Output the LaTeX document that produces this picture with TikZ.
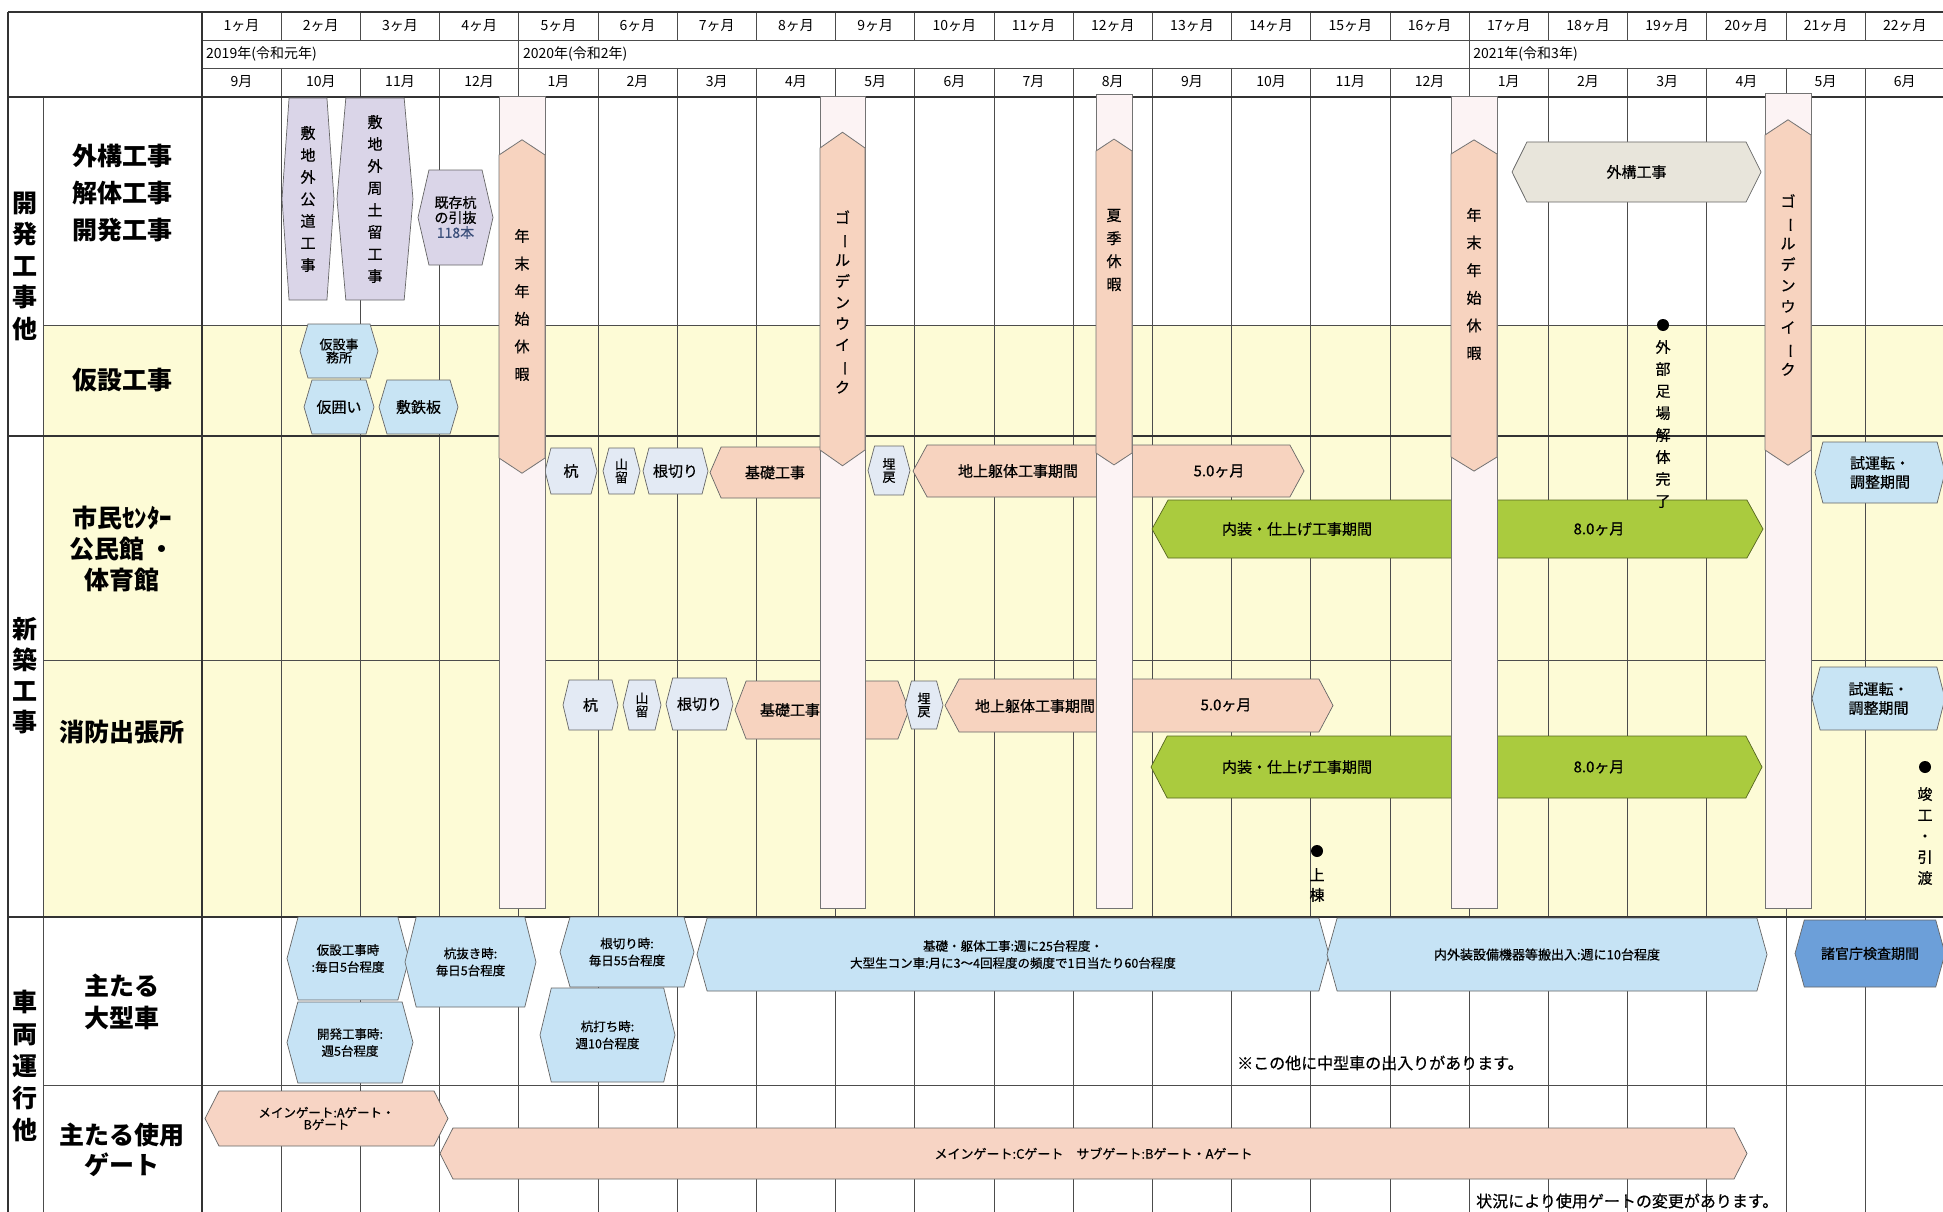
\documentclass[tikz,border=0pt]{standalone}
\usepackage{fontspec}
\setmainfont{Noto Sans CJK JP}
\usetikzlibrary{shapes.symbols}

\definecolor{rowyel}{HTML}{FDFBD6}
\definecolor{holbg}{HTML}{FCF3F4}
\definecolor{holpk}{HTML}{F7D3BF}
\definecolor{lav}{HTML}{DAD5E8}
\definecolor{kblue}{HTML}{C8E4F4}
\definecolor{pale}{HTML}{E3EAF4}
\definecolor{peach}{HTML}{F7D3BF}
\definecolor{leaf}{HTML}{AACB3E}
\definecolor{beige}{HTML}{E8E5DB}
\definecolor{vblue}{HTML}{C6E3F5}
\definecolor{dblue}{HTML}{6C9FD9}
\definecolor{gpeach}{HTML}{F7D4C4}
\definecolor{numblue}{HTML}{3A4E7A}

\newcommand{\chouon}{\rotatebox[origin=c]{-90}{ー}}
\newcommand{\semibold}{\addfontfeature{FakeBold=0.6}}

\begin{document}
\begin{tikzpicture}[x=1pt,y=-1pt,
  grid/.style={draw=black!70,line width=0.8pt},
  frame/.style={draw=black!80,line width=1.3pt},
  hdr/.style={font=\fontsize{14}{16}\selectfont,inner sep=0pt},
  lab/.style={font=\fontsize{25}{#1}\selectfont\bfseries,align=center,inner sep=0pt},
  hx/.style={signal,signal to=east and west,draw=black!60,line width=0.7pt,
    align=center,inner sep=0pt,font=\fontsize{15}{19}\selectfont\semibold},
  tx/.style={font=\fontsize{15}{17}\selectfont\semibold,inner sep=0pt},
  vt/.style={align=center,inner sep=0pt,font=\fontsize{15}{#1}\selectfont\semibold},
  holbase/.style={rectangle,draw=black!55,fill=holbg,line width=0.8pt,inner sep=0pt,minimum width=46pt},
  holarrow/.style={signal,signal to=north and south,draw=black!55,fill=holpk,line width=0.8pt,inner sep=0pt,minimum width=46pt},
  mstone/.style={circle,fill=black,inner sep=0pt,minimum size=12pt},
]
\useasboundingbox (0,0) rectangle (1943,1212);
\fill[white] (0,0) rectangle (1943,1212);
\fill[rowyel] (43,325) rectangle (1943,917);

% grid
\foreach \k in {1,...,21}
  \draw[grid] ({202+\k*79.2},12) -- ({202+\k*79.2},40) ({202+\k*79.2},68) -- ({202+\k*79.2},1212);
\draw[grid] ({202+4*79.2},40) -- ++(0,28) ({202+16*79.2},40) -- ++(0,28);
\draw[grid] (202,40) -- (1943,40) (202,68) -- (1943,68);
\draw[grid] (43,325) -- (1943,325) (43,660) -- (1943,660) (43,1085) -- (1943,1085);
\draw[grid] (43,97) -- (43,1212);
\draw[frame] (8,12) -- (1943,12) (8,97) -- (1943,97) (8,436) -- (1943,436) (8,917) -- (1943,917);
\draw[frame] (8,12) -- (8,1212) (202,12) -- (202,1212);

% header
\foreach \k in {1,...,22}
  \node[hdr] (n\k) at ({202+(\k-0.5)*79.2},26) {\k ヶ月};
\foreach \k/\m in {1/9,2/10,3/11,4/12,5/1,6/2,7/3,8/4,9/5,10/6,11/7,12/8,13/9,14/10,15/11,16/12,17/1,18/2,19/3,20/4,21/5,22/6}
  \node[hdr] (mo\k) at ({202+(\k-0.5)*79.2},82) {\m 月};
\node[hdr,anchor=west] (y2019) at (206,54) {2019年(令和元年)};
\node[hdr,anchor=west] (y2020) at ({206+4*79.2},54) {2020年(令和2年)};
\node[hdr,anchor=west] (y2021) at ({206+16*79.2},54) {2021年(令和3年)};

% row labels
\node[lab=31.5] (g1) at (25,266) {開\\発\\工\\事\\他};
\node[lab=31] (g2) at (25,676) {新\\築\\工\\事};
\node[lab=32] (g3) at (25,1066) {車\\両\\運\\行\\他};
\node[lab=37] (r1) at (122,193) {外構工事\\解体工事\\開発工事};
\node[lab=31] (r2) at (122,380) {仮設工事};
\node[lab=31] (r3) at (122,549) {市民ｾﾝﾀｰ\\公民館 ・\\体育館};
\node[lab=31] (r4) at (122,732) {消防出張所};
\node[lab=32] (r5) at (122,1002) {主たる\\大型車};
\node[lab=30] (r6) at (122,1150) {主たる使用\\ゲート};

% 開発工事他
\node[hx,fill=lav,minimum width=52pt,minimum height=202pt,signal pointer angle=172,font=\fontsize{15}{22}\selectfont\semibold] (kodo) at (308,199) {敷\\地\\外\\公\\道\\工\\事};
\node[hx,fill=lav,minimum width=76pt,minimum height=202pt,signal pointer angle=170,font=\fontsize{15}{22}\selectfont\semibold] (domei) at (375,199) {敷\\地\\外\\周\\土\\留\\工\\事};
\node[hx,fill=lav,minimum width=75pt,minimum height=95pt,signal pointer angle=154,font=\fontsize{14}{15}\selectfont\semibold] (hikinuki) at (455.5,217.5) {既存杭\\の引抜\\\textcolor{numblue}{118本}};
\node[hx,fill=beige,minimum width=249pt,minimum height=60pt,signal pointer angle=127] (gaiko) at (1636.5,172) {外構工事};
\node[hx,fill=kblue,minimum width=78pt,minimum height=54pt,signal pointer angle=147,font=\fontsize{13}{13}\selectfont\semibold] (jimusho) at (339,351) {仮設事\\務所};
\node[hx,fill=kblue,minimum width=70pt,minimum height=54pt,signal pointer angle=147] (kakoi) at (339,407) {仮囲い};
\node[hx,fill=kblue,minimum width=79pt,minimum height=54pt,signal pointer angle=147] (teppan) at (418.5,407) {敷鉄板};

% 市民センター
\node[hx,fill=pale,minimum width=52pt,minimum height=46pt,signal pointer angle=151] (kui1) at (571,471) {杭};
\node[hx,fill=pale,minimum width=37pt,minimum height=46pt,signal pointer angle=151,font=\fontsize{13}{13}\selectfont\semibold] (yama1) at (621.5,471) {山\\留};
\node[hx,fill=pale,minimum width=65pt,minimum height=46pt,signal pointer angle=151] (nekiri1) at (675.5,471) {根切り};
\node[hx,fill=peach,minimum width=130pt,minimum height=51pt,signal pointer angle=133] (kiso1) at (775,472.5) {基礎工事};
\node[hx,fill=pale,minimum width=42pt,minimum height=49pt,signal pointer angle=150,font=\fontsize{13}{13}\selectfont\semibold] (ume1) at (889,470.5) {埋\\戻};
\node[hx,fill=peach,minimum width=391pt,minimum height=52pt,signal pointer angle=123] (kutai1) at (1108.5,471) {};
\node[tx] (kutai1a) at (1018,471) {地上躯体工事期間};
\node[tx] (kutai1b) at (1219,471) {5.0ヶ月};
\node[hx,fill=leaf,draw=leaf!50!black,minimum width=611pt,minimum height=58pt,signal pointer angle=122] (naiso1) at (1457.5,529) {};
\node[tx] (naiso1a) at (1297,529) {内装・仕上げ工事期間};
\node[tx] (naiso1b) at (1599,529) {8.0ヶ月};
\node[hx,fill=kblue,minimum width=130pt,minimum height=61pt,signal pointer angle=151] (shiunten1) at (1880,472.5) {試運転・\\調整期間};

% 消防出張所
\node[hx,fill=pale,minimum width=55pt,minimum height=50pt,signal pointer angle=153] (kui2) at (590.5,705) {杭};
\node[hx,fill=pale,minimum width=38pt,minimum height=50pt,signal pointer angle=153,font=\fontsize{13}{13}\selectfont\semibold] (yama2) at (642,705) {山\\留};
\node[hx,fill=pale,minimum width=67pt,minimum height=52pt,signal pointer angle=151] (nekiri2) at (699.5,704) {根切り};
\node[hx,fill=peach,minimum width=174pt,minimum height=58pt,signal pointer angle=138] (kiso2) at (822,710) {};
\node[tx] (kiso2t) at (790,710) {基礎工事};
\node[hx,fill=pale,minimum width=38pt,minimum height=48pt,signal pointer angle=150,font=\fontsize{13}{13}\selectfont\semibold] (ume2) at (924,705) {埋\\戻};
\node[hx,fill=peach,minimum width=388pt,minimum height=53pt,signal pointer angle=124] (kutai2) at (1139,705.5) {};
\node[tx] (kutai2a) at (1035,706) {地上躯体工事期間};
\node[tx] (kutai2b) at (1226,705) {5.0ヶ月};
\node[hx,fill=leaf,draw=leaf!50!black,minimum width=611pt,minimum height=62pt,signal pointer angle=125] (naiso2) at (1456.5,767) {};
\node[tx] (naiso2a) at (1297,767) {内装・仕上げ工事期間};
\node[tx] (naiso2b) at (1599,767) {8.0ヶ月};
\node[hx,fill=kblue,minimum width=133pt,minimum height=63pt,signal pointer angle=151] (shiunten2) at (1878.5,698.5) {試運転・\\調整期間};

% 主たる大型車
\node[hx,fill=vblue,minimum width=122pt,minimum height=83pt,signal pointer angle=150,font=\fontsize{12.5}{17}\selectfont\semibold] (karisetsu) at (348,958.5) {仮設工事時\\:毎日5台程度};
\node[hx,fill=vblue,minimum width=126pt,minimum height=81pt,signal pointer angle=150,font=\fontsize{12.5}{17}\selectfont\semibold] (kaihatsu) at (350,1042.5) {開発工事時:\\週5台程度};
\node[hx,fill=vblue,minimum width=131pt,minimum height=90pt,signal pointer angle=152,font=\fontsize{12.5}{17}\selectfont\semibold] (kuinukiji) at (470.5,962) {杭抜き時:\\毎日5台程度};
\node[hx,fill=vblue,minimum width=134pt,minimum height=70pt,signal pointer angle=148,font=\fontsize{12.5}{17}\selectfont\semibold] (nekiriji) at (627,952) {根切り時:\\毎日55台程度};
\node[hx,fill=vblue,minimum width=135pt,minimum height=94pt,signal pointer angle=153,font=\fontsize{12.5}{17}\selectfont\semibold] (kuiuchi) at (607.5,1035) {杭打ち時:\\週10台程度};
\node[hx,fill=vblue,minimum width=632pt,minimum height=73pt,signal pointer angle=149,font=\fontsize{12.5}{17}\selectfont\semibold] (kisokutai) at (1013,954.5) {基礎・躯体工事:週に25台程度・\\大型生コン車:月に3～4回程度の頻度で1日当たり60台程度};
\node[hx,fill=vblue,minimum width=440pt,minimum height=73pt,signal pointer angle=149,font=\fontsize{13}{17}\selectfont\semibold] (naigaiso) at (1547,954.5) {内外装設備機器等搬出入:週に10台程度};
\node[hx,fill=dblue,minimum width=150pt,minimum height=67pt,signal pointer angle=149,font=\fontsize{14}{17}\selectfont\semibold] (shokancho) at (1870,953.5) {諸官庁検査期間};
\node[anchor=west,inner sep=0pt,font=\fontsize{16}{18}\selectfont\semibold] (note1) at (1237,1063) {※この他に中型車の出入りがあります。};

% 主たる使用ゲート
\node[hx,fill=gpeach,minimum width=243pt,minimum height=55pt,signal pointer angle=126,font=\fontsize{12.5}{12}\selectfont\semibold] (gate1) at (326.5,1118.5) {メインゲート:Aゲート・\\Bゲート};
\node[hx,fill=gpeach,minimum width=1307pt,minimum height=51pt,signal pointer angle=126,font=\fontsize{13}{17}\selectfont\semibold] (gate2) at (1093.5,1153.5) {メインゲート:Cゲート　サブゲート:Bゲート・Aゲート};
\node[anchor=west,inner sep=0pt,font=\fontsize{16}{18}\selectfont\semibold] (note2) at (1476,1201) {状況により使用ゲートの変更があります。};

% holidays
\node[holbase,minimum height=812pt] (hol1base) at (522,502) {};
\node[holarrow,minimum height=303pt,signal pointer angle=113] (hol1) at (522,306.5) {};
\node[vt=27.6] (hol1t) at (522,305) {年\\末\\年\\始\\休\\暇};
\node[holbase,minimum width=45pt,minimum height=812pt] (hol2base) at (842.5,502) {};
\node[holarrow,minimum width=45pt,minimum height=302pt,signal pointer angle=110] (hol2) at (842.5,299) {};
\node[vt=21.2] (hol2t) at (842.5,302) {ゴ\\\chouon\\ル\\デ\\ン\\ウ\\イ\\\chouon\\ク};
\node[holbase,minimum width=36pt,minimum height=814pt] (hol3base) at (1114,501) {};
\node[holarrow,minimum width=36pt,minimum height=302pt,signal pointer angle=113] (hol3) at (1114,302) {};
\node[vt=23] (hol3t) at (1114,250) {夏\\季\\休\\暇};
\node[holbase,minimum height=812pt] (hol4base) at (1474,502) {};
\node[holarrow,minimum height=303pt,signal pointer angle=117] (hol4) at (1474,305.5) {};
\node[vt=27.6] (hol4t) at (1474,284) {年\\末\\年\\始\\休\\暇};
\node[holbase,minimum height=815pt] (hol5base) at (1788,500.5) {};
\node[holarrow,minimum height=315pt,signal pointer angle=113] (hol5) at (1788,292.5) {};
\node[vt=21] (hol5t) at (1788,285) {ゴ\\\chouon\\ル\\デ\\ン\\ウ\\イ\\\chouon\\ク};

% milestones
\node[mstone] (ashiba) at (1663,325) {};
\node[vt=22] (ashibat) at (1663,424) {外\\部\\足\\場\\解\\体\\完\\了};
\node[mstone] (jotou) at (1317,851) {};
\node[vt=20] (jotout) at (1317,885) {上\\棟};
\node[mstone] (shunko) at (1925,767) {};
\node[vt=21] (shunkot) at (1925,836) {竣\\工\\・\\引\\渡};
\end{tikzpicture}
\end{document}
